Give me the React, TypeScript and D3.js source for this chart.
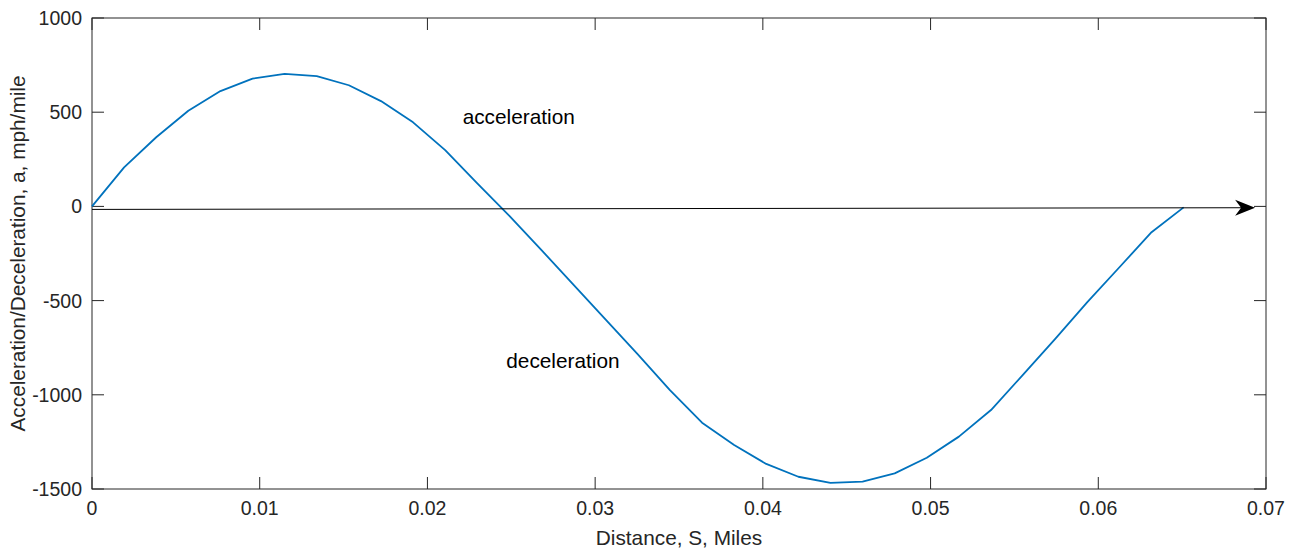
import React from "react";
import * as d3 from "d3";

const distance: number[] = [
  0, 0.001914, 0.003829, 0.005743, 0.007658, 0.009572, 0.011486, 0.013401, 0.015315, 0.01723,
  0.019144, 0.021058, 0.022973, 0.024887, 0.026802, 0.028716, 0.03063, 0.032545, 0.034459,
  0.036374, 0.038288, 0.040202, 0.042117, 0.044031, 0.045946, 0.04786, 0.049774, 0.051689,
  0.053603, 0.055518, 0.057432, 0.059346, 0.061261, 0.063175, 0.06509,
];
const accel: number[] = [
  0, 207, 367, 508, 612, 678, 703, 692, 643, 559,
  446, 299, 122, -50, -232, -417, -601, -785, -975,
  -1148, -1266, -1367, -1435, -1468, -1461, -1417, -1334, -1222,
  -1081, -893, -703, -508, -323, -137, -5,
];
const xTicks: number[] = [0, 0.01, 0.02, 0.03, 0.04, 0.05, 0.06, 0.07];
const xTickLabels: string[] = ["0", "0.01", "0.02", "0.03", "0.04", "0.05", "0.06", "0.07"];
const yTicks: number[] = [1000, 500, 0, -500, -1000, -1500];
const yTickLabels: string[] = ["1000", "500", "0", "-500", "-1000", "-1500"];
const arrowStart: [number, number] = [0, -16];
const arrowEnd: [number, number] = [0.06935, -7];
const labels = [
  { text: "acceleration", x: 0.0221, y: 440 },
  { text: "deceleration", x: 0.02470, y: -860 },
];

export default function App() {
  const W = 1294, H = 550;
  const L = 92, R = 1266, T = 18, B = 489;
  const x = d3.scaleLinear().domain([0, 0.07]).range([L, R]);
  const y = d3.scaleLinear().domain([-1500, 1000]).range([B, T]);
  const line = d3.line<number>().x((_, i) => x(distance[i])).y((d) => y(d));
  const axisColor = "#262626";
  const font = "Arial, 'Liberation Sans', Helvetica, sans-serif";
  const tl = 12;
  const ax1 = x(arrowStart[0]), ay1 = y(arrowStart[1]);
  const ax2 = x(arrowEnd[0]), ay2 = y(arrowEnd[1]);
  const ang = Math.atan2(ay2 - ay1, ax2 - ax1);
  const hl = 20, hw = 8, notch = 14;
  const pt = (along: number, perp: number) => [
    ax2 + along * Math.cos(ang) - perp * Math.sin(ang),
    ay2 + along * Math.sin(ang) + perp * Math.cos(ang),
  ];
  const head = [pt(0, 0), pt(-hl, -hw), pt(-notch, 0), pt(-hl, hw)];
  return (
    <svg width={W} height={H} style={{ position: "absolute", left: 0, top: 0, background: "#fff" }} fontFamily={font}>
      <rect x={0} y={0} width={W} height={H} fill="#fff" />
      {xTicks.map((t, i) => (
        <g key={"xt" + i}>
          <line x1={x(t)} x2={x(t)} y1={B} y2={B - tl} stroke={axisColor} strokeWidth={1} />
          <line x1={x(t)} x2={x(t)} y1={T} y2={T + tl} stroke={axisColor} strokeWidth={1} />
          <text x={x(t)} y={B + 26} fontSize={19.5} fill={axisColor} textAnchor="middle">{xTickLabels[i]}</text>
        </g>
      ))}
      {yTicks.map((t, i) => (
        <g key={"yt" + i}>
          <line x1={L} x2={L + tl} y1={y(t)} y2={y(t)} stroke={axisColor} strokeWidth={1} />
          <line x1={R} x2={R - tl} y1={y(t)} y2={y(t)} stroke={axisColor} strokeWidth={1} />
          <text x={L - 10} y={y(t) + 7} fontSize={19.5} fill={axisColor} textAnchor="end">{yTickLabels[i]}</text>
        </g>
      ))}
      <rect x={L} y={T} width={R - L} height={B - T} fill="none" stroke={axisColor} strokeWidth={1} />
      <path d={line(accel) || ""} fill="none" stroke="#0072BD" strokeWidth={1.8} strokeLinejoin="round" />
      <line x1={ax1} y1={ay1} x2={pt(-notch, 0)[0]} y2={pt(-notch, 0)[1]} stroke="#000" strokeWidth={1} />
      <polygon points={head.map((p) => p.join(",")).join(" ")} fill="#000" />
      {labels.map((l, i) => (
        <text key={"lb" + i} x={x(l.x)} y={y(l.y)} fontSize={20.8} fill="#000">{l.text}</text>
      ))}
      <text x={(L + R) / 2} y={545} fontSize={20.8} fill={axisColor} textAnchor="middle">Distance, S, Miles</text>
      <text transform={`translate(24.5,${(T + B) / 2}) rotate(-90)`} fontSize={20.8} fill={axisColor} textAnchor="middle">
        Acceleration/Deceleration, a, mph/mile
      </text>
    </svg>
  );
}
